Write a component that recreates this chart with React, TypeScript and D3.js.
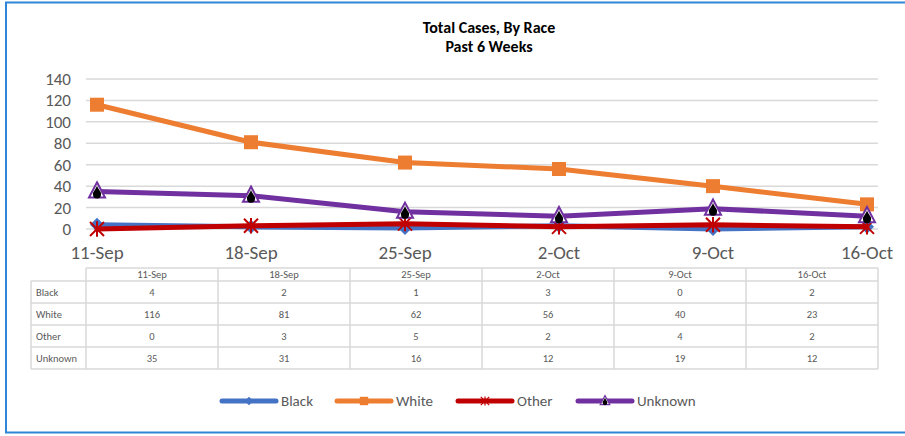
import React from "react";
import * as d3 from "d3";

const categories = ["11-Sep", "18-Sep", "25-Sep", "2-Oct", "9-Oct", "16-Oct"];
const black = [4, 2, 1, 3, 0, 2];
const white = [116, 81, 62, 56, 40, 23];
const other = [0, 3, 5, 2, 4, 2];
const unknown = [35, 31, 16, 12, 19, 12];
const yTicks = [0, 20, 40, 60, 80, 100, 120, 140];

const series = [
  { name: "Black", values: black, color: "#4472C4", marker: "diamond" },
  { name: "White", values: white, color: "#ED7D31", marker: "square" },
  { name: "Other", values: other, color: "#C00000", marker: "star" },
  { name: "Unknown", values: unknown, color: "#7030A0", marker: "triangle" },
];

const FONT = "Carlito, Lato, 'Open Sans', sans-serif";
const TXT = "#595959";

function Marker({ type, color, x, y, s = 1 }: any) {
  if (type === "diamond") {
    const r = 7 * s;
    return <path d={`M${x},${y - r}L${x + r},${y}L${x},${y + r}L${x - r},${y}Z`} fill={color} />;
  }
  if (type === "square") {
    const r = 7 * s;
    return <rect x={x - r} y={y - r} width={2 * r} height={2 * r} fill={color} />;
  }
  if (type === "star") {
    const r = 7 * s;
    return (
      <g stroke={color} strokeWidth={2 * s}>
        <line x1={x - r} y1={y - r} x2={x + r} y2={y + r} />
        <line x1={x - r} y1={y + r} x2={x + r} y2={y - r} />
        <line x1={x} y1={y - r * 1.1} x2={x} y2={y + r * 1.1} />
      </g>
    );
  }
  const r = 8 * s;
  return (
    <g>
      <path
        d={`M${x},${y - r * 1.15}L${x + r},${y + r * 0.75}L${x - r},${y + r * 0.75}Z`}
        fill="#fff"
        stroke={color}
        strokeWidth={2 * s}
      />
      <path
        d={`M${x},${y - r * 0.75}C${x + 1 * s},${y - 2 * s} ${x + 5 * s},${y + 1 * s} ${x + 4 * s},${y + 3 * s}A${4 * s},${4 * s} 0 1 1 ${x - 4 * s},${y + 3 * s}C${x - 5 * s},${y + 1 * s} ${x - 1 * s},${y - 2 * s} ${x},${y - r * 0.75}Z`}
        fill="#000"
      />
    </g>
  );
}

export default function App() {
  const W = 905, H = 436;
  const x = d3.scalePoint<string>().domain(categories).range([97, 867]);
  const y = d3.scaleLinear().domain([0, 140]).range([229, 79]);
  const line = d3
    .line<number>()
    .x((_, i) => x(categories[i])!)
    .y((d) => y(d));

  const tLeft = 86, tRight = 878, labelLeft = 31;
  const colW = (tRight - tLeft) / categories.length;
  const headTop = 268, headBot = 281;
  const rowEdges = [281, 303, 325, 347, 369];

  const legendItems = [
    { x0: 222, ...series[0] },
    { x0: 337, ...series[1] },
    { x0: 458, ...series[2] },
    { x0: 578, ...series[3] },
  ];

  return (
    <svg
      width={W}
      height={H}
      style={{ position: "absolute", left: 0, top: 0, fontFamily: FONT }}
    >
      <rect x={0} y={0} width={W} height={H} fill="#fff" />
      <rect x={6} y={2.5} width={906} height={430} fill="none" stroke="#2E86D6" strokeWidth={2} />

      <text x={489} y={32.5} textAnchor="middle" fontSize={16} fontWeight="bold" fill="#000">
        Total Cases, By Race
      </text>
      <text x={489} y={51.5} textAnchor="middle" fontSize={16} fontWeight="bold" fill="#000">
        Past 6 Weeks
      </text>

      {yTicks.map((t) => (
        <g key={t}>
          <line x1={86} x2={878} y1={y(t)} y2={y(t)} stroke="#D9D9D9" strokeWidth={1.5} />
          <text x={71} y={y(t)} dy="0.35em" textAnchor="end" fontSize={17} fill={TXT}>
            {t}
          </text>
        </g>
      ))}

      {categories.map((c) => (
        <text key={c} x={x(c)} y={259} textAnchor="middle" fontSize={19} fill={TXT}>
          {c}
        </text>
      ))}

      {series.map((s) => (
        <g key={s.name}>
          <path
            d={line(s.values)!}
            fill="none"
            stroke={s.color}
            strokeWidth={5}
            strokeLinejoin="round"
            strokeLinecap="round"
          />
          {s.values.map((v, i) => (
            <Marker key={i} type={s.marker} color={s.color} x={x(categories[i])} y={y(v)} />
          ))}
        </g>
      ))}

      {/* data table */}
      <g stroke="#D9D9D9" strokeWidth={1.5} fill="none">
        <line x1={tLeft} x2={tRight} y1={headTop} y2={headTop} />
        {rowEdges.map((ry) => (
          <line key={ry} x1={labelLeft} x2={tRight} y1={ry} y2={ry} />
        ))}
        <line x1={labelLeft} x2={labelLeft} y1={headBot} y2={rowEdges[rowEdges.length - 1]} />
        {d3.range(categories.length + 1).map((i) => (
          <line
            key={i}
            x1={tLeft + i * colW}
            x2={tLeft + i * colW}
            y1={headTop}
            y2={rowEdges[rowEdges.length - 1]}
          />
        ))}
      </g>
      {categories.map((c, i) => (
        <text key={c} x={tLeft + (i + 0.5) * colW} y={(headTop + headBot) / 2} dy="0.35em" textAnchor="middle" fontSize={10.5} fill={TXT}>
          {c}
        </text>
      ))}
      {series.map((s, r) => (
        <g key={s.name}>
          <text x={labelLeft + 5} y={(rowEdges[r] + rowEdges[r + 1]) / 2} dy="0.35em" fontSize={10.5} fill={TXT}>
            {s.name}
          </text>
          {s.values.map((v, i) => (
            <text
              key={i}
              x={tLeft + (i + 0.5) * colW}
              y={(rowEdges[r] + rowEdges[r + 1]) / 2}
              dy="0.35em"
              textAnchor="middle"
              fontSize={10.5}
              fill={TXT}
            >
              {v}
            </text>
          ))}
        </g>
      ))}

      {/* legend */}
      {legendItems.map((l) => (
        <g key={l.name}>
          <line x1={l.x0} x2={l.x0 + 54} y1={401} y2={401} stroke={l.color} strokeWidth={5} strokeLinecap="round" />
          <Marker type={l.marker} color={l.color} x={l.x0 + 27} y={401} s={0.6} />
          <text x={l.x0 + 59} y={401} dy="0.35em" fontSize={15} fill={TXT}>
            {l.name}
          </text>
        </g>
      ))}
    </svg>
  );
}
